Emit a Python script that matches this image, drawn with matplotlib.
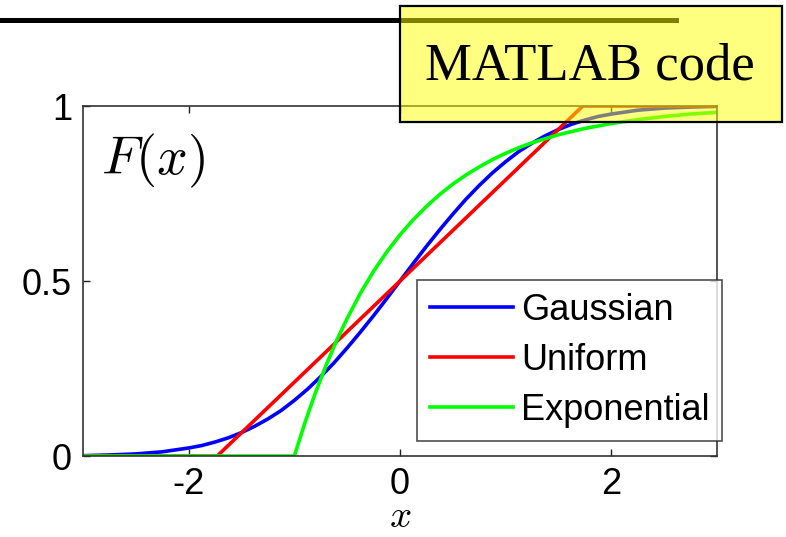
import matplotlib
matplotlib.use("Agg")
import matplotlib.pyplot as plt
from matplotlib.patches import Rectangle
from matplotlib.lines import Line2D

plt.rcParams["font.family"] = ["Liberation Sans", "DejaVu Sans"]
plt.rcParams["mathtext.fontset"] = "cm"

# CDF values read at x = -3 ... 3
x_gauss = [-3.0, -2.75, -2.5, -2.25, -2.0, -1.875, -1.75, -1.625, -1.5, -1.375, -1.25, -1.125,
           -1.0, -0.875, -0.75, -0.625, -0.5, -0.375, -0.25, -0.125, 0.0, 0.125, 0.25, 0.375,
           0.5, 0.625, 0.75, 0.875, 1.0, 1.125, 1.25, 1.375, 1.5, 1.625, 1.75, 1.875, 2.0,
           2.25, 2.5, 2.75, 3.0]
f_gauss = [0.001, 0.003, 0.006, 0.012, 0.023, 0.030, 0.040, 0.052, 0.067, 0.085, 0.106, 0.130,
           0.159, 0.191, 0.227, 0.266, 0.309, 0.354, 0.401, 0.450, 0.500, 0.550, 0.599, 0.646,
           0.691, 0.734, 0.773, 0.809, 0.841, 0.870, 0.894, 0.915, 0.933, 0.948, 0.960, 0.970, 0.977,
           0.988, 0.994, 0.997, 0.999]

x_unif = [-3.0, -1.73, 1.73, 3.0]
f_unif = [0.0, 0.0, 1.0, 1.0]

x_expo = [-3.0, -1.0, -0.9, -0.8, -0.7, -0.6, -0.5, -0.375, -0.25, -0.125, 0.0, 0.125, 0.25,
          0.375, 0.5, 0.625, 0.75, 0.875, 1.0, 1.125, 1.25, 1.5, 1.75, 2.0, 2.25, 2.5, 2.75, 3.0]
f_expo = [0.0, 0.0, 0.095, 0.181, 0.259, 0.330, 0.393, 0.465, 0.528, 0.583, 0.632, 0.675, 0.713,
          0.747, 0.777, 0.803, 0.826, 0.847, 0.865, 0.881, 0.895, 0.918, 0.936, 0.950, 0.961,
          0.970, 0.977, 0.982]

labels = ["Gaussian", "Uniform", "Exponential"]
colores = ["#0000ff", "#ff0000", "#00ff00"]

fig = plt.figure(figsize=(7.86, 5.37), dpi=100)
ax = fig.add_axes([0.1056, 0.1508, 0.8066, 0.6518])

ax.plot(x_gauss, f_gauss, color=colores[0], lw=2.6, label=labels[0])
ax.plot(x_unif, f_unif, color=colores[1], lw=2.6, label=labels[1])
ax.plot(x_expo, f_expo, color=colores[2], lw=2.6, label=labels[2])

ax.set_xlim(-3, 3)
ax.set_ylim(0, 1)
ax.set_xticks([-2, 0, 2])
ax.set_xticklabels(["-2", "0", "2"])
ax.set_yticks([0, 0.5, 1])
ax.set_yticklabels(["0", "0.5", "1"])
ax.tick_params(direction="in", length=5, width=1, labelsize=26, pad=8,
               top=True, right=True, colors="#222222", labelcolor="black")
for sp in ax.spines.values():
    sp.set_linewidth(1.2)
    sp.set_color("#333333")

ax.text(0.028, 0.925, r"$F(x)$", transform=ax.transAxes, fontsize=39,
        va="top", ha="left")
ax.set_xlabel(r"$x$", fontsize=28, labelpad=-2)

leg = ax.legend(loc="upper left", bbox_to_anchor=(0.527, 0.503), borderaxespad=0,
                fontsize=26, frameon=True, fancybox=False, handlelength=2.3,
                handletextpad=0.22, labelspacing=0.42, borderpad=0.35)
leg.get_frame().set_edgecolor("#222222")
leg.get_frame().set_linewidth(1.2)

# top rule and the translucent note box drawn over the axes
fig.add_artist(Line2D([0.0, 676 / 786], [0.962, 0.962], color="black", lw=3.6,
                      transform=fig.transFigure, zorder=4))
fig.add_artist(Rectangle((400 / 786, 1 - 122 / 537), 382 / 786, 116 / 537,
                         transform=fig.transFigure, facecolor="#ffff00", alpha=0.5,
                         edgecolor="none", zorder=5))
fig.add_artist(Rectangle((400 / 786, 1 - 122 / 537), 382 / 786, 116 / 537,
                         transform=fig.transFigure, facecolor="none",
                         edgecolor="black", lw=1.6, zorder=6))
fig.text(590 / 786, 1 - 66 / 537, "MATLAB code", fontsize=38, family="Liberation Serif",
         ha="center", va="center", zorder=7)

fig.savefig("out.png", dpi=100)
